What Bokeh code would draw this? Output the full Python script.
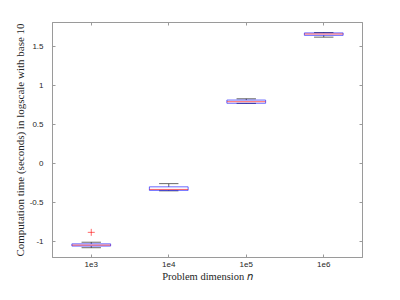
from bokeh.plotting import figure
from bokeh.models import LinearAxis, FixedTicker, Range1d, ColumnDataSource, CustomLabelingPolicy
from bokeh.embed import file_html
from bokeh.resources import INLINE

categories = ["1e3", "1e4", "1e5", "1e6"]
upper_whisker = [-1.005, -0.257, 0.826, 1.672]
q3 = [-1.026, -0.298, 0.810, 1.667]
median = [-1.042, -0.331, 0.789, 1.653]
q1 = [-1.054, -0.343, 0.769, 1.636]
lower_whisker = [-1.075, -0.349, 0.767, 1.613]
outlier_cat = ["1e3"]
outlier_y = [-0.879]
y_ticks = [-1, -0.5, 0, 0.5, 1, 1.5]
y_tick_labels = ["-1", "-0.5", "0", "0.5", "1", "1.5"]

pos = [i + 1 for i in range(len(categories))]
box_w = 0.5
cap_w = 0.25

src = ColumnDataSource(dict(
    x=pos,
    left=[x - box_w / 2 for x in pos], right=[x + box_w / 2 for x in pos],
    cl=[x - cap_w / 2 for x in pos], cr=[x + cap_w / 2 for x in pos],
    uw=upper_whisker, q3=q3, med=median, q1=q1, lw=lower_whisker,
))

AX = "#9a9a9a"
TXT = "#262626"
SERIF = "Liberation Serif"
SANS = "Liberation Sans"
LW = 0.6

p = figure(width=384, height=284, output_backend="svg", toolbar_location=None,
           x_range=Range1d(0.5, 4.5), y_range=Range1d(-1.2, 1.8),
           min_border_left=52, min_border_right=22, min_border_top=22, min_border_bottom=0)
p.background_fill_color = "white"
p.border_fill_color = "white"
p.grid.visible = False
p.outline_line_color = AX
p.outline_line_width = 1

# whiskers (dashed)
p.segment(x0="x", y0="q3", x1="x", y1="uw", source=src, line_color="black", line_width=LW, line_dash="3 2")
p.segment(x0="x", y0="q1", x1="x", y1="lw", source=src, line_color="black", line_width=LW, line_dash="3 2")
# caps
p.segment(x0="cl", y0="uw", x1="cr", y1="uw", source=src, line_color="black", line_width=LW)
p.segment(x0="cl", y0="lw", x1="cr", y1="lw", source=src, line_color="black", line_width=LW)
# boxes
p.quad(left="left", right="right", bottom="q1", top="q3", source=src,
       fill_color=None, line_color="#0000ff", line_width=LW)
# medians
p.segment(x0="left", y0="med", x1="right", y1="med", source=src, line_color="#ff0000", line_width=LW)
# outliers
p.scatter([pos[categories.index(c)] for c in outlier_cat], outlier_y, marker="cross",
          size=7, line_color="#ff0000", line_width=LW)

no_labels = CustomLabelingPolicy(code="""
for (const i of Array.from(indices)) {
    if (indices.unset) { indices.unset(i) } else { indices.set(i, false) }
}
return indices
""")

def style(ax, labels=True):
    ax.axis_line_color = AX
    ax.major_tick_line_color = AX
    ax.major_tick_in = 3
    ax.major_tick_out = 0
    ax.minor_tick_line_color = None
    ax.major_label_text_color = TXT
    ax.major_label_text_font = SANS
    ax.major_label_text_font_size = "8px"
    if not labels:
        ax.major_label_policy = no_labels
        ax.major_label_standoff = 0

style(p.xaxis[0])
p.xaxis.ticker = FixedTicker(ticks=pos)
p.xaxis.major_label_overrides = {x: c for x, c in zip(pos, categories)}
p.xaxis.major_label_standoff = 4
p.xaxis.axis_label = "Problem dimension 𝑛"
p.xaxis.axis_label_text_font = SERIF
p.xaxis.axis_label_text_font_style = "normal"
p.xaxis.axis_label_text_font_size = "10.5px"
p.xaxis.axis_label_text_color = TXT
p.xaxis.axis_label_standoff = 1

style(p.yaxis[0])
p.yaxis.ticker = FixedTicker(ticks=y_ticks)
p.yaxis.major_label_overrides = {v: s for v, s in zip(y_ticks, y_tick_labels)}
p.yaxis.major_label_standoff = 9
p.yaxis.axis_label = "Computation time (seconds) in logscale with base 10"
p.yaxis.axis_label_text_font = SERIF
p.yaxis.axis_label_text_font_style = "normal"
p.yaxis.axis_label_text_font_size = "11px"
p.yaxis.axis_label_text_color = TXT
p.yaxis.axis_label_standoff = 1

top = LinearAxis(ticker=FixedTicker(ticks=pos))
style(top, labels=False)
p.add_layout(top, "above")
right = LinearAxis(ticker=FixedTicker(ticks=y_ticks))
style(right, labels=False)
p.add_layout(right, "right")

open("out.html", "w").write(file_html(p, INLINE))
